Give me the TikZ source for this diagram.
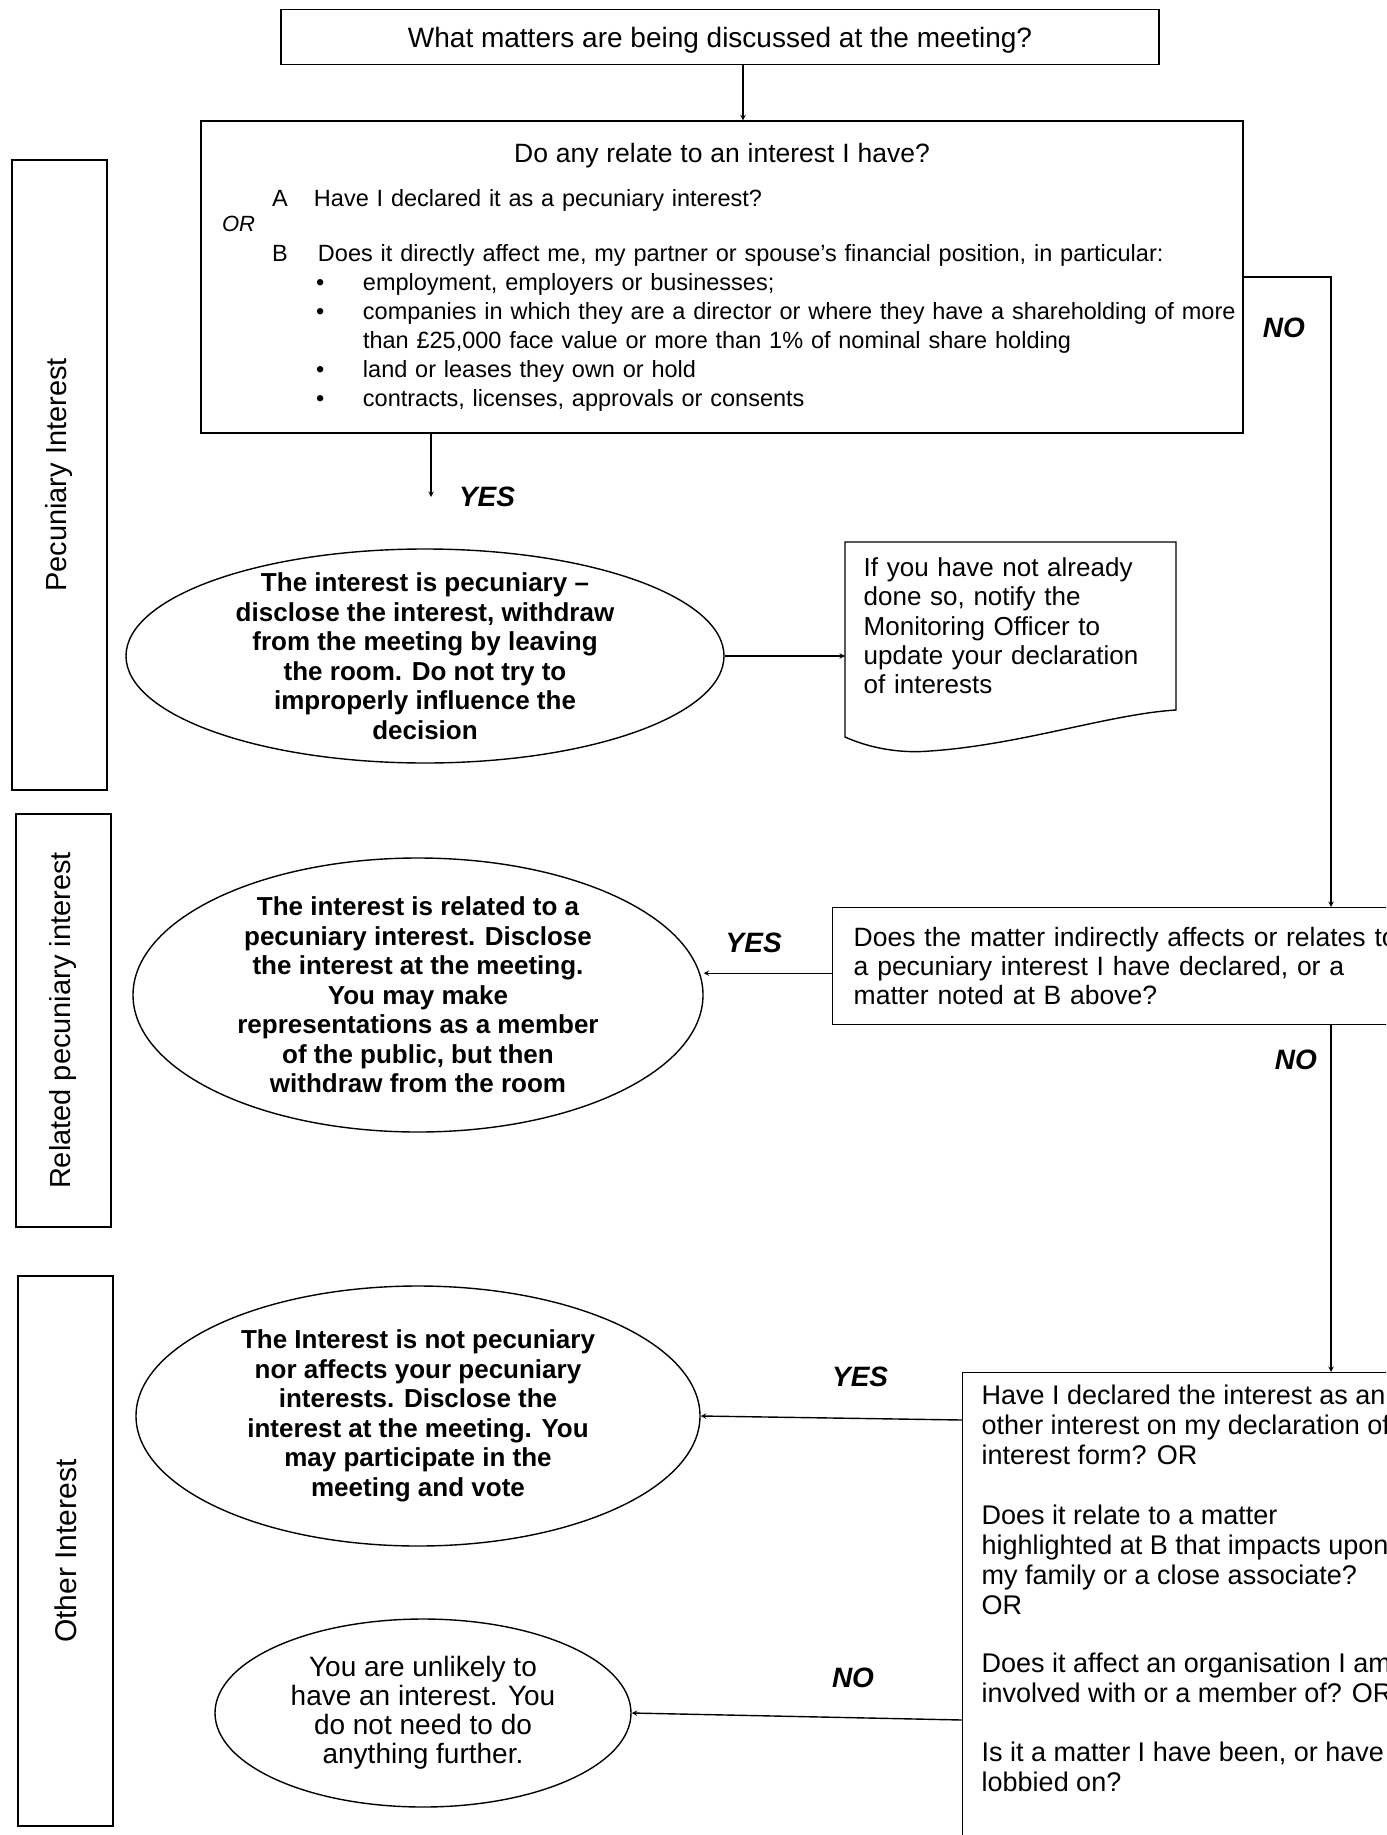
\documentclass[tikz,border=0pt]{standalone}
\usepackage{fontspec}
\setmainfont{Liberation Sans}
\usepackage{tikz}
\usetikzlibrary{positioning}
\usetikzlibrary{shapes.geometric}
\setlength{\parindent}{0pt}

\begin{document}
\begin{tikzpicture}[
    x=1pt, y=-1pt,
    line width=1.4pt,
    box/.style={rectangle, draw, inner sep=0pt},
    sidebox/.style={rectangle, draw, line width=1.1pt, rotate=90, minimum height=95pt, font=\fontsize{29}{34}\selectfont},
    bubble/.style={ellipse, draw, inner sep=0pt},
    bubbletext/.style={align=center, font=\bfseries\fontsize{26}{29.5}\selectfont},
    answer/.style={font=\bfseries\itshape\fontsize{28}{30}\selectfont},
    arrow/.style={->, >=stealth}
]
\useasboundingbox (0,0) rectangle (1386,1835);
\clip (0,0) rectangle (1386,1835);

% Side columns
\node[sidebox, minimum width=630pt] (pecside) at (59.5,475) {Pecuniary Interest};
\node[sidebox, minimum width=413pt] (relside) at (63.5,1020.5) {Related pecuniary interest};
\node[sidebox, minimum width=550pt, font=\fontsize{30}{34}\selectfont] (othside) at (65.5,1551) {Other Interest};

% Questions
\node[box, minimum width=878pt, minimum height=55pt, text depth=0pt, font=\fontsize{28}{32}\selectfont] (discuss) at (720,37) {What matters are being discussed at the meeting?};
\node[box, minimum width=1042pt, minimum height=312pt, text width=1042pt, font=\fontsize{23.5}{29}\selectfont] (relate) at (722,277) {%
  \centering{\fontsize{26.5}{29}\selectfont Do any relate to an interest I have?}\par
  \raggedright
  \vspace{15pt}
  \hspace*{71pt}\makebox[42pt][l]{A}Have I declared it as a pecuniary interest?\par
  \vspace{-4pt}
  \hspace*{21pt}{\itshape\fontsize{22}{29}\selectfont OR}\par
  \vspace{1pt}
  \hspace*{71pt}\makebox[46pt][l]{B}Does it directly affect me, my partner or spouse's financial position, in particular:\par
  \hspace*{115pt}\makebox[47pt][l]{\textbullet}employment, employers or businesses;\par
  \hspace*{115pt}\makebox[47pt][l]{\textbullet}companies in which they are a director or where they have a shareholding of more\par
  \hspace*{162pt}than £25,000 face value or more than 1\% of nominal share holding\par
  \hspace*{115pt}\makebox[47pt][l]{\textbullet}land or leases they own or hold\par
  \hspace*{115pt}\makebox[47pt][l]{\textbullet}contracts, licenses, approvals or consents\par
  \vspace*{7pt}};
\node[box, anchor=north west, minimum height=117pt, text width=640pt, inner xsep=21pt, align=left, font=\fontsize{26.5}{28.7}\selectfont] (indirect) at (832,907) {Does the matter indirectly affects or relates to\\ a pecuniary interest I have declared, or a\\ matter noted at B above?};
\node[box, anchor=north west, inner xsep=19pt, inner ysep=12pt, font=\fontsize{27}{30}\selectfont] (other) at (962,1372) {\parbox[c][500pt][t]{520pt}{\raggedright
  Have I declared the interest as an\\ other interest on my declaration of\\ interest form? OR\\[30pt]
  Does it relate to a matter\\ highlighted at B that impacts upon\\ my family or a close associate?\\ OR\\[28pt]
  Does it affect an organisation I am\\ involved with or a member of? OR\\[29pt]
  Is it a matter I have been, or have\\ lobbied on?}};

% Outcomes
\node[bubble, minimum width=598pt, minimum height=214pt, label={[bubbletext]center:{The interest is pecuniary --\\ disclose the interest, withdraw\\ from the meeting by leaving\\ the room. Do not try to\\ improperly influence the\\ decision}}] (pec) at (425,656) {};
\node[anchor=north west, inner xsep=18pt, inner ysep=15pt, text width=295pt, align=left, font=\fontsize{26}{29.3}\selectfont] (notify) at (845,542) {If you have not already\\ done so, notify the\\ Monitoring Officer to\\ update your declaration\\ of interests};
\draw (845,542) -- (1176,542) -- (1176,710) .. controls (1110,714) and (1020,745) .. (930,751) .. controls (895,754) and (865,746) .. (845,737) -- cycle;
\node[bubble, minimum width=570pt, minimum height=274pt, label={[bubbletext]center:{The interest is related to a\\ pecuniary interest. Disclose\\ the interest at the meeting.\\ You may make\\ representations as a member\\ of the public, but then\\ withdraw from the room}}] (related) at (418,995) {};
\node[bubble, minimum width=564pt, minimum height=260pt, label={[bubbletext]center:{The Interest is not pecuniary\\ nor affects your pecuniary\\ interests. Disclose the\\ interest at the meeting. You\\ may participate in the\\ meeting and vote}}] (nonpec) at (418,1416) {};
\node[bubble, minimum width=416pt, minimum height=188pt, label={[bubbletext, font=\fontsize{28}{29}\selectfont]center:{You are unlikely to\\ have an interest. You\\ do not need to do\\ anything further.}}] (unlikely) at (423,1713) {};

% Paths
\coordinate (yesend) at (431,497);
\coordinate (trunk) at (1331,0);
\draw[arrow] ([xshift=23pt]discuss.south) -- ([xshift=21pt]relate.north);
\draw[arrow] (relate.south -| yesend) -- (yesend) node[answer, right=24pt] {YES};
\draw[arrow] (relate.east) -| node[answer, pos=0.54, left=22pt] {NO} (trunk |- indirect.north);
\draw[arrow] (pec.east) -- (pec.east -| notify.west);
\draw[arrow] ([yshift=-7pt]indirect.west) coordinate (yeswest) -- node[answer, pos=0.61, above=16pt] {YES} (yeswest -| related.east);
\draw[arrow] (indirect.south -| trunk) -- node[answer, pos=0.1, left=10pt] {NO} (other.north -| trunk);
\draw[arrow] ([yshift=-48pt]other.north west) -- node[answer, pos=0.39, above=28pt] {YES} (nonpec.east);
\draw[arrow] ([yshift=-348pt]other.north west) -- node[answer, pos=0.33, above=26pt] {NO} (unlikely.east);

\end{tikzpicture}
\end{document}
